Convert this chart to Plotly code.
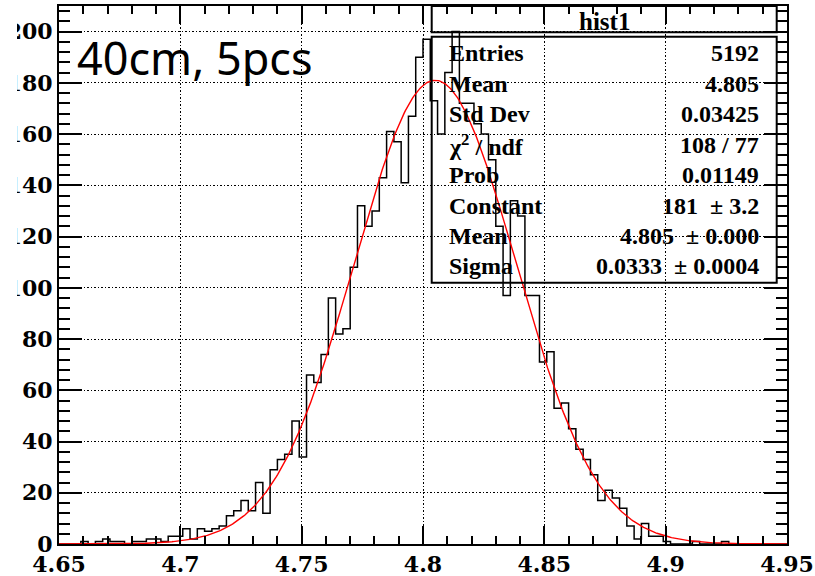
import numpy as np
import plotly.graph_objects as go

# Histogram "hist1": 100 bins between 4.65 and 4.95
x_min, x_max, n_bins = 4.65, 4.95, 100
counts = [0, 0, 0, 1, 0, 1, 2, 1, 1, 0,
          1, 1, 2, 2, 1, 3, 3, 6, 2, 6,
          5, 6, 7, 11, 13, 17, 13, 24, 12, 29,
          33, 35, 48, 34, 66, 63, 74, 96, 82, 84,
          108, 132, 124, 130, 143, 161, 157, 141, 167, 190,
          197, 173, 160, 184, 200, 172, 172, 164, 160, 150,
          124, 97, 134, 128, 97, 97, 71, 75, 53, 55,
          45, 37, 33, 27, 17, 21, 18, 14, 7, 2,
          8, 3, 3, 1, 0, 0, 0, 1, 0, 0,
          0, 1, 0, 0, 0, 0, 0, 0, 0, 0]

# Gaussian fit parameters
fit_constant = 181.0
fit_mean = 4.805
fit_sigma = 0.0333

# Statistics box
stat_title = "hist1"
stat_names = ["Entries", "Mean", "Std Dev", "χ<sup>2</sup> / ndf", "Prob",
              "Constant", "Mean", "Sigma"]
stat_values = ["5192", "4.805", "0.03425", "108 / 77", "0.01149",
               "181  ± 3.2", "4.805  ± 0.000", "0.0333  ± 0.0004"]

label_text = "40cm, 5pcs"

x_ticks = [4.65, 4.7, 4.75, 4.8, 4.85, 4.9, 4.95]
y_ticks = list(range(0, 201, 20))

# ---- figure geometry (pixels)
W, H = 815, 576
L, R, T, B = 59, 28, 6, 32
PW, PH = W - L - R, H - T - B


def px(x):
    return (x - L) / PW


def py(y):
    return (H - B - y) / PH


edges = np.linspace(x_min, x_max, n_bins + 1)
step_y = list(counts) + [counts[-1]]

xf = np.linspace(x_min, x_max, 600)
yf = fit_constant * np.exp(-0.5 * ((xf - fit_mean) / fit_sigma) ** 2)

fig = go.Figure()
fig.add_trace(go.Scatter(x=edges, y=step_y, mode="lines",
                         line=dict(shape="hv", color="black", width=1.5),
                         hoverinfo="skip", showlegend=False))
fig.add_trace(go.Scatter(x=xf, y=yf, mode="lines",
                         line=dict(color="#ff0000", width=1.4),
                         hoverinfo="skip", showlegend=False))

tick_font = dict(family="DejaVu Serif", size=22, color="black", weight="bold")
common = dict(showline=True, linecolor="black", linewidth=2, mirror="ticks",
              ticks="inside", tickcolor="black", tickwidth=1.5,
              showgrid=True, gridcolor="black", gridwidth=1, griddash="1.5px,2px",
              zeroline=False, automargin=False, tickfont=tick_font)

fig.update_xaxes(range=[x_min, x_max], tickvals=x_ticks,
                 ticktext=[f"{v:g}" for v in x_ticks], ticklen=18,
                 minor=dict(dtick=0.01, tick0=x_min, ticks="inside", ticklen=8,
                            tickcolor="black", tickwidth=1.5, showgrid=False),
                 **common)
fig.update_yaxes(range=[0, 210], tickvals=y_ticks, ticklen=23,
                 minor=dict(dtick=4, tick0=0, ticks="inside", ticklen=11,
                            tickcolor="black", tickwidth=1.5, showgrid=False),
                 **common)

# Stats boxes
box_x0, box_x1 = px(431.7), px(776.7)
fig.add_shape(type="rect", xref="paper", yref="paper",
              x0=box_x0, x1=box_x1, y0=py(32.3), y1=py(6),
              line=dict(color="black", width=2), fillcolor="rgba(0,0,0,0)")
fig.add_shape(type="rect", xref="paper", yref="paper",
              x0=box_x0, x1=box_x1, y0=py(282.7), y1=py(36.7),
              line=dict(color="black", width=2), fillcolor="rgba(0,0,0,0)")

# the canvas is cut at its left edge, hiding the leading digits of wide labels
fig.add_shape(type="rect", xref="paper", yref="paper", layer="above",
              x0=px(-10), x1=px(17), y0=py(H + 5), y1=py(-5),
              line=dict(width=0), fillcolor="white")

stat_font = dict(family="Liberation Serif", size=24, color="black", weight="bold")
annotations = [dict(text=stat_title, x=px(604), y=py(21), xref="paper", yref="paper",
                    xanchor="center", yanchor="middle", showarrow=False,
                    font=dict(stat_font, size=25))]
row_y0, row_dy = 53.5, 30.4
for i, (name, val) in enumerate(zip(stat_names, stat_values)):
    yy = py(row_y0 + i * row_dy)
    annotations.append(dict(text=name, x=px(447), y=yy, xref="paper", yref="paper",
                            xanchor="left", yanchor="middle", showarrow=False,
                            font=stat_font))
    annotations.append(dict(text=val, x=px(761), y=yy, xref="paper", yref="paper",
                            xanchor="right", yanchor="middle", showarrow=False,
                            font=stat_font))

annotations.append(dict(text=label_text, x=px(75), y=py(57), xref="paper", yref="paper",
                        xanchor="left", yanchor="middle", showarrow=False,
                        font=dict(family="Noto Sans", size=45, color="black")))

fig.update_layout(width=W, height=H, margin=dict(l=L, r=R, t=T, b=B),
                  paper_bgcolor="white", plot_bgcolor="white",
                  template="none", showlegend=False, annotations=annotations)

fig.write_html("out.html")
